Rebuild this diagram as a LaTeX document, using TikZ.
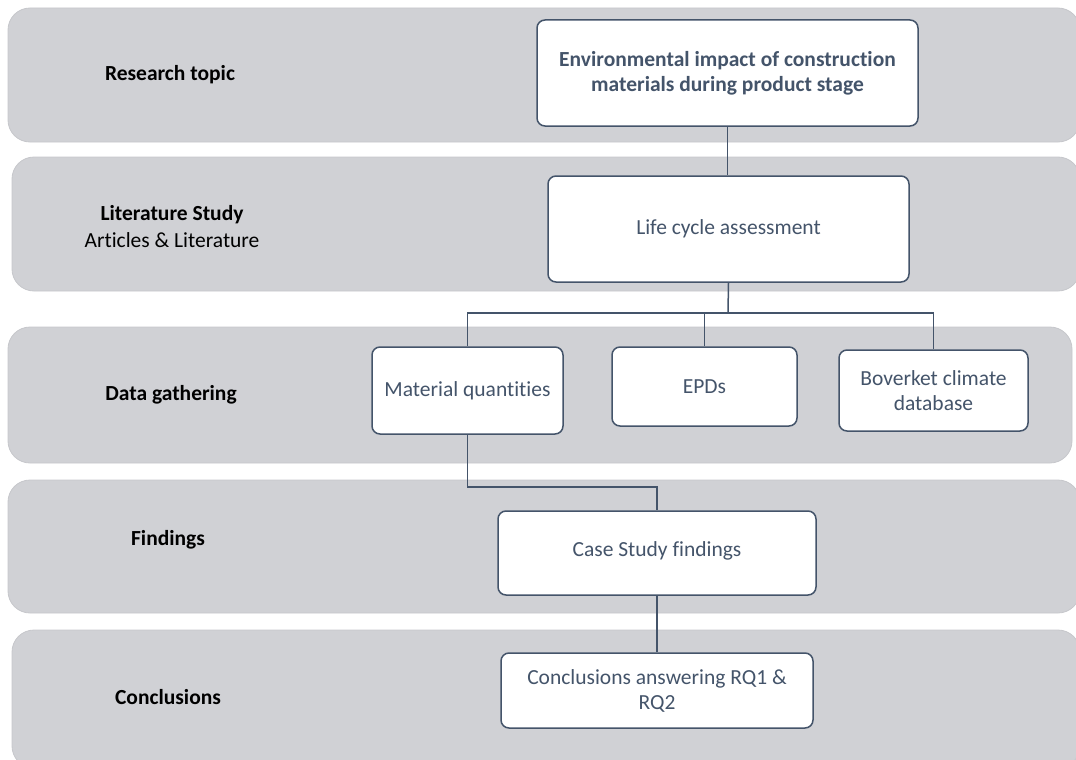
\documentclass[tikz,border=0pt]{standalone}
\usepackage{fontspec}
\setmainfont{Carlito}[RawFeature={-liga;-clig;-calt;-dlig}]
\definecolor{bandfill}{HTML}{D0D1D5}
\definecolor{bandedge}{HTML}{C6C7CB}
\definecolor{slate}{HTML}{44546A}
\begin{document}
\begin{tikzpicture}[x=1pt,y=-1pt,
  band/.style={fill=bandfill,draw=bandedge,line width=0.8pt,rounded corners=22pt},
  box/.style={draw=slate,fill=white,line width=1.5pt,rounded corners=8pt,
    align=center,text=slate,inner sep=2pt,font=\fontsize{21.5}{25}\selectfont},
  lbl/.style={align=center,text=black,font=\fontsize{21.5}{27}\selectfont},
  link/.style={draw=slate,line width=1.5pt}]
\useasboundingbox (0,0) rectangle (1076,760);

% horizontal stage bands
\path[band] (8,8) rectangle (1080,142);
\path[band] (12,157) rectangle (1080,291);
\path[band] (8,327) rectangle (1072,463);
\path[band] (8,480) rectangle (1080,613);
\path[band] (12,630) rectangle (1080,768);

% stage labels
\node[lbl] (l1) at (170,75) {\bfseries Research topic};
\node[lbl] (l2) at (172,227) {\bfseries Literature Study\\Articles \& Literature};
\node[lbl] (l3) at (171,395) {\bfseries Data gathering};
\node[lbl] (l4) at (168,540) {\bfseries Findings};
\node[lbl] (l5) at (168,697) {\bfseries Conclusions};

% process boxes
\node[box,minimum width=381pt,minimum height=106pt,font=\bfseries\fontsize{21.5}{25}\selectfont]
  (env) at (727.5,73) {Environmental impact of construction\\materials during product stage};
\node[box,minimum width=361pt,minimum height=106pt] (lca) at (728.5,229) {Life cycle assessment};
\node[box,minimum width=191pt,minimum height=87pt] (mq) at (467.5,390.5) {Material quantities};
\node[box,minimum width=185pt,minimum height=79pt] (epd) at (704.5,386.5) {EPDs};
\node[box,minimum width=189pt,minimum height=81pt] (bov) at (933.5,390.5) {Boverket climate\\database};
\node[box,minimum width=318pt,minimum height=84pt] (csf) at (657,553) {\raisebox{7pt}{Case Study findings}};
\node[box,minimum width=312pt,minimum height=75pt] (conc) at (657,690.5) {Conclusions answering RQ1 \&\\RQ2};

% connectors
\coordinate (bus) at (728,313);
\coordinate (jog) at (657,487);
\draw[link] (env.south) -- (env.south |- lca.north);
\draw[link] (lca.south) -- (bus);
\draw[link] (bus) -| (mq.north);
\draw[link] (bus) -| (epd.north);
\draw[link] (bus) -| (bov.north);
\draw[link] (mq.south) |- (jog) -- (csf.north);
\draw[link] (csf.south) -- (conc.north);
\end{tikzpicture}
\end{document}
